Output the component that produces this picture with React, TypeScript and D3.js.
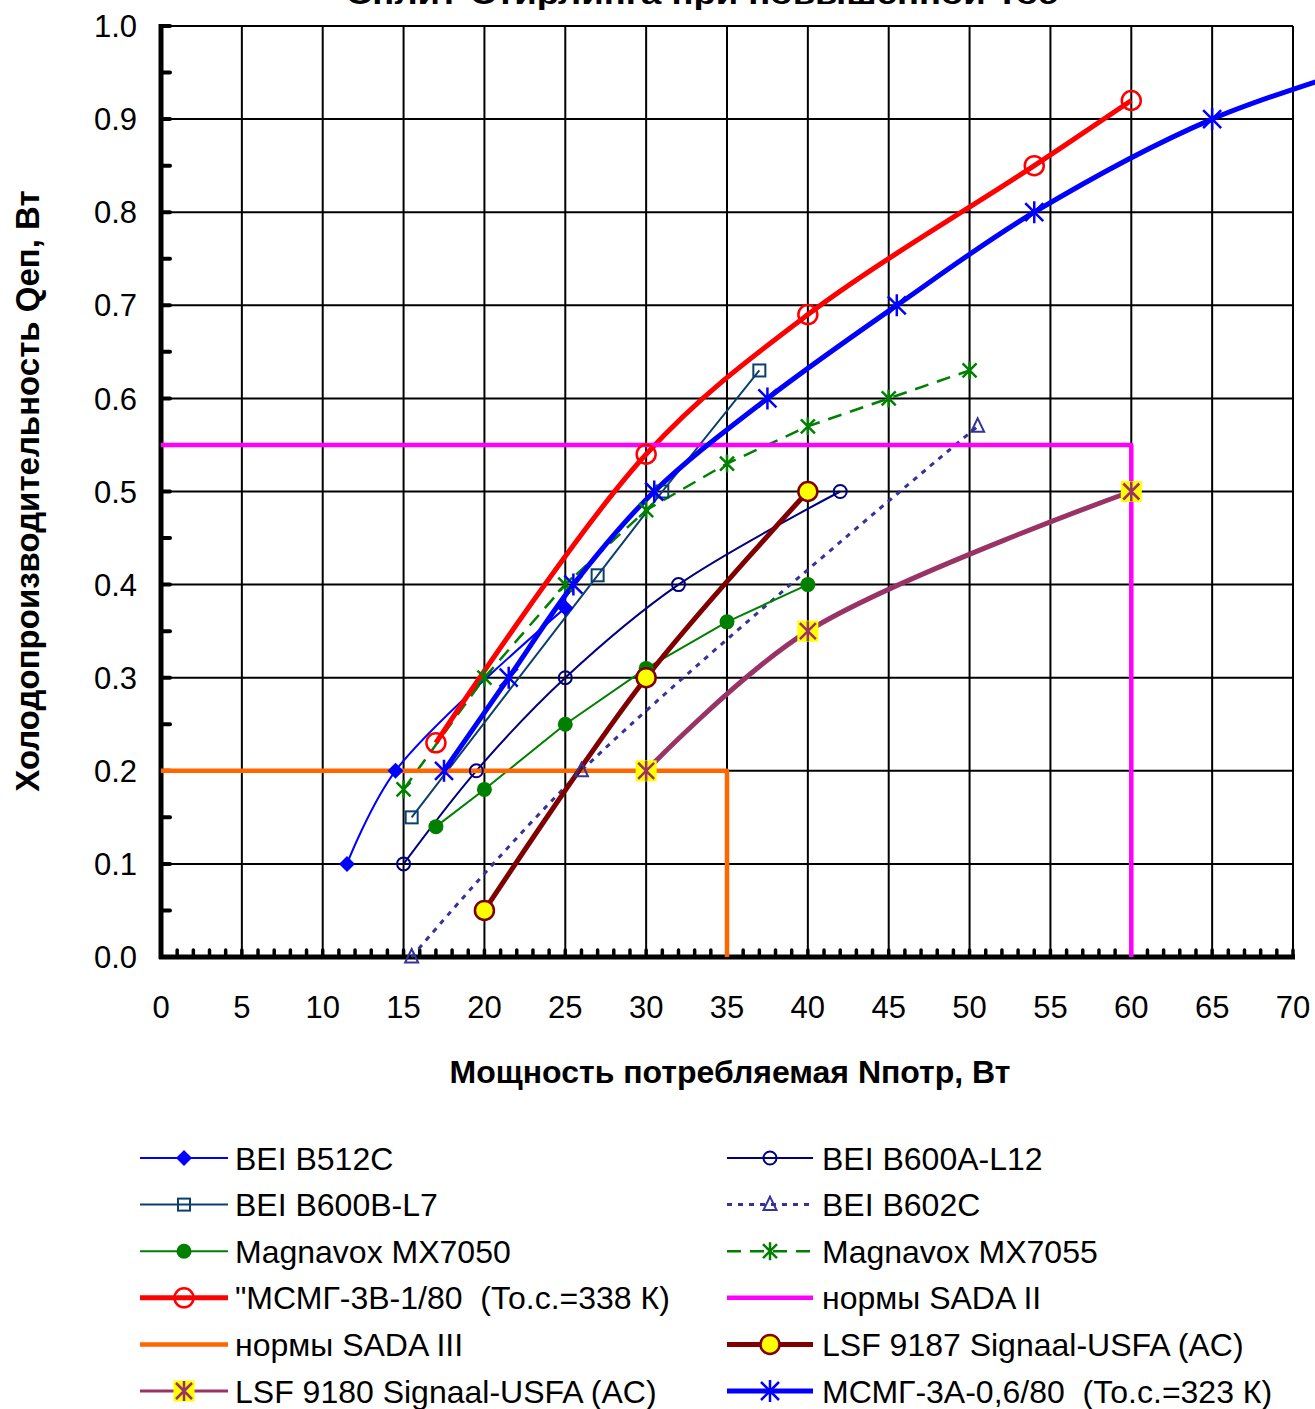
import * as d3 from 'd3';

// tick labels
const xTickLabels = ['0', '5', '10', '15', '20', '25', '30', '35', '40', '45', '50', '55', '60', '65', '70'];
const yTickLabels = ['0.0', '0.1', '0.2', '0.3', '0.4', '0.5', '0.6', '0.7', '0.8', '0.9', '1.0'];

// series (x = Nпотр, W ; y = Q, W)
const b512cX = [11.5, 14.5, 25];
const b512cY = [0.1, 0.2, 0.375];
const b600aX = [15, 19.5, 25, 32, 42];
const b600aY = [0.1, 0.2, 0.3, 0.4, 0.5];
const b600bX = [15.5, 27, 31, 37];
const b600bY = [0.15, 0.41, 0.5, 0.63];
const b602cX = [15.5, 26, 50.5];
const b602cY = [0, 0.2, 0.57];
const mx7050X = [17, 20, 25, 30, 35, 40];
const mx7050Y = [0.14, 0.18, 0.25, 0.31, 0.36, 0.4];
const mx7055X = [15, 20, 25, 30, 35, 40, 45, 50];
const mx7055Y = [0.18, 0.3, 0.4, 0.48, 0.53, 0.57, 0.6, 0.63];
const msmg3bX = [17, 30, 40, 54, 60];
const msmg3bY = [0.23, 0.54, 0.69, 0.85, 0.92];
const sada2X = [0, 60, 60];
const sada2Y = [0.55, 0.55, 0];
const sada3X = [0, 35, 35];
const sada3Y = [0.2, 0.2, 0];
const lsf9187X = [20, 30, 40];
const lsf9187Y = [0.05, 0.3, 0.5];
const lsf9180X = [30, 40, 60];
const lsf9180Y = [0.2, 0.35, 0.5];
const msmg3aX = [17.5, 21.5, 25.5, 30.5, 37.5, 45.5, 54, 65, 76];
const msmg3aY = [0.2, 0.3, 0.4, 0.5, 0.6, 0.7, 0.8, 0.9, 0.965];

type Mk = 'diamond' | 'square' | 'ring' | 'triangle' | 'dot' | 'star' | 'bigRing' | 'yellowDot' | 'yellowSq' | 'bigStar' | 'none';

interface Series {
  name: string;
  xs: number[];
  ys: number[];
  color: string;
  width: number;
  legendWidth?: number;
  dash?: string;
  smooth: boolean;
  marker: Mk;
}

const series: Series[] = [
  { name: 'BEI B512C', xs: b512cX, ys: b512cY, color: '#0000FF', width: 2, smooth: true, marker: 'diamond' },
  { name: 'BEI B600A-L12', xs: b600aX, ys: b600aY, color: '#000080', width: 2, smooth: true, marker: 'ring' },
  { name: 'BEI B600B-L7', xs: b600bX, ys: b600bY, color: '#0B3F6E', width: 2, smooth: false, marker: 'square' },
  { name: 'BEI B602C', xs: b602cX, ys: b602cY, color: '#333399', width: 3, dash: '5,6', smooth: true, marker: 'triangle' },
  { name: 'Magnavox MX7050', xs: mx7050X, ys: mx7050Y, color: '#008000', width: 2, smooth: false, marker: 'dot' },
  { name: 'Magnavox MX7055', xs: mx7055X, ys: mx7055Y, color: '#008000', width: 2.5, dash: '14,9', smooth: false, marker: 'star' },
  { name: '"МСМГ-3В-1/80  (То.с.=338 К)', xs: msmg3bX, ys: msmg3bY, color: '#FF0000', width: 5, smooth: true, marker: 'bigRing' },
  { name: 'нормы SADA II', xs: sada2X, ys: sada2Y, color: '#FF00FF', width: 4.5, smooth: false, marker: 'none' },
  { name: 'нормы SADA III', xs: sada3X, ys: sada3Y, color: '#FF6600', width: 4.5, smooth: false, marker: 'none' },
  { name: 'LSF 9187 Signaal-USFA (AC)', xs: lsf9187X, ys: lsf9187Y, color: '#800000', width: 5, smooth: true, marker: 'yellowDot' },
  { name: 'LSF 9180 Signaal-USFA (AC)', xs: lsf9180X, ys: lsf9180Y, color: '#993366', width: 5, legendWidth: 3, smooth: true, marker: 'yellowSq' },
  { name: 'МСМГ-3А-0,6/80  (То.с.=323 К)', xs: msmg3aX, ys: msmg3aY, color: '#0000FF', width: 5, smooth: true, marker: 'bigStar' },
];

const W = 1315;
const H = 1409;
const FONT = '"Liberation Sans", Arial, sans-serif';

const x = d3.scaleLinear().domain([0, 70]).range([161, 1293]);
const y = d3.scaleLinear().domain([0, 1]).range([957, 26]);

const Marker = ({ type, cx, cy, color }: { type: Mk; cx: number; cy: number; color: string }) => {
  switch (type) {
    case 'diamond':
      return <path d={`M${cx},${cy - 8}L${cx + 8},${cy}L${cx},${cy + 8}L${cx - 8},${cy}Z`} fill={color} />;
    case 'square':
      return <rect x={cx - 6} y={cy - 6} width={12} height={12} fill="none" stroke={color} strokeWidth={2} />;
    case 'ring':
      return <circle cx={cx} cy={cy} r={6.5} fill="none" stroke={color} strokeWidth={2} />;
    case 'triangle':
      return <path d={`M${cx},${cy - 8}L${cx + 6.5},${cy + 5.5}L${cx - 6.5},${cy + 5.5}Z`} fill="none" stroke={color} strokeWidth={2} />;
    case 'dot':
      return <circle cx={cx} cy={cy} r={7.5} fill={color} />;
    case 'star':
      return (
        <path
          d={`M${cx - 7},${cy - 7}L${cx + 7},${cy + 7}M${cx - 7},${cy + 7}L${cx + 7},${cy - 7}M${cx},${cy - 9}L${cx},${cy + 9}`}
          stroke={color}
          strokeWidth={2.5}
          fill="none"
        />
      );
    case 'bigRing':
      return <circle cx={cx} cy={cy} r={9.5} fill="none" stroke={color} strokeWidth={2.5} />;
    case 'yellowDot':
      return <circle cx={cx} cy={cy} r={9.5} fill="#FFFF00" stroke={color} strokeWidth={2.5} />;
    case 'yellowSq':
      return (
        <g>
          <rect x={cx - 10.5} y={cy - 10.5} width={21} height={21} fill="#FFFF00" />
          <path
            d={`M${cx - 8},${cy - 8}L${cx + 8},${cy + 8}M${cx - 8},${cy + 8}L${cx + 8},${cy - 8}M${cx},${cy - 10}L${cx},${cy + 10}`}
            stroke={color}
            strokeWidth={2.5}
            fill="none"
          />
        </g>
      );
    case 'bigStar':
      return (
        <path
          d={`M${cx - 9},${cy - 9}L${cx + 9},${cy + 9}M${cx - 9},${cy + 9}L${cx + 9},${cy - 9}M${cx},${cy - 11}L${cx},${cy + 11}`}
          stroke={color}
          strokeWidth={2.5}
          fill="none"
        />
      );
    default:
      return null;
  }
};

export default function App() {
  const minorX = d3.range(1, 71);
  const minorY = d3.range(0.05, 1.0001, 0.05);

  const lineFor = (s: Series) => {
    const gen = d3
      .line<number>()
      .x((_d, i) => x(s.xs[i]))
      .y((_d, i) => y(s.ys[i]))
      .curve(s.smooth ? d3.curveCatmullRom.alpha(0.5) : d3.curveLinear);
    return gen(s.ys) || '';
  };

  const legendRow0 = 1158;
  const legendStep = 46.6;
  const cols = [
    { x1: 140, x2: 228, mx: 184, tx: 235 },
    { x1: 727, x2: 813, mx: 770, tx: 822 },
  ];

  return (
    <svg width={W} height={H} style={{ position: 'absolute', left: 0, top: 0, background: '#fff' }} fontFamily={FONT}>
      <rect width={W} height={H} fill="#fff" />
      {/* title, cut off at the top edge as in the source image */}
      <text x={702} y={4} textAnchor="middle" fontSize={30} fontWeight="bold" textLength={712} lengthAdjust="spacingAndGlyphs">
        Сплит-Стирлинга при повышенной Тос
      </text>

      {/* grid */}
      {d3.range(5, 75, 5).map(v => (
        <line key={'vx' + v} x1={x(v)} x2={x(v)} y1={y(1)} y2={y(0)} stroke="#000" strokeWidth={2} />
      ))}
      {d3.range(1, 11).map(i => (
        <line key={'hy' + i} x1={x(0)} x2={x(70)} y1={y(i / 10)} y2={y(i / 10)} stroke="#000" strokeWidth={2} />
      ))}

      {/* axes */}
      <line x1={x(0)} x2={x(0)} y1={y(1) - 2} y2={y(0) + 2} stroke="#000" strokeWidth={5} />
      <line x1={x(0) - 2} x2={x(70) + 2} y1={y(0)} y2={y(0)} stroke="#000" strokeWidth={5} />
      {minorY.map(v => (
        <line key={'ty' + v} x1={x(0)} x2={x(0) + 9} y1={y(v)} y2={y(v)} stroke="#000" strokeWidth={4} strokeLinecap="round" />
      ))}
      {minorX.map(v => (
        <line key={'tx' + v} x1={x(v)} x2={x(v)} y1={y(0)} y2={y(0) - 7} stroke="#000" strokeWidth={3.5} strokeLinecap="round" />
      ))}

      {/* tick labels */}
      {yTickLabels.map((t, i) => (
        <text key={'yl' + t} x={137} y={y(i / 10)} dy="0.36em" textAnchor="end" fontSize={31}>
          {t}
        </text>
      ))}
      {xTickLabels.map((t, i) => (
        <text key={'xl' + t} x={x(i * 5)} y={1007} dy="0.36em" textAnchor="middle" fontSize={31}>
          {t}
        </text>
      ))}

      {/* axis titles */}
      <text x={730} y={1083} textAnchor="middle" fontSize={32} fontWeight="bold">
        Мощность потребляемая Nпотр, Вт
      </text>
      <text transform="translate(39,491) rotate(-90)" textAnchor="middle" fontSize={33} fontWeight="bold">
        Холодопроизводительность Qеп, Вт
      </text>

      {/* series lines */}
      {series.map(s => (
        <path
          key={'l' + s.name}
          d={lineFor(s)}
          fill="none"
          stroke={s.color}
          strokeWidth={s.width}
          strokeDasharray={s.dash}
          strokeLinejoin="round"
        />
      ))}
      {/* markers on top */}
      {series.map(s =>
        s.xs.map((v, i) => <Marker key={'m' + s.name + i} type={s.marker} cx={x(v)} cy={y(s.ys[i])} color={s.color} />)
      )}

      {/* legend */}
      {series.map((s, i) => {
        const c = cols[i % 2];
        const ry = legendRow0 + Math.floor(i / 2) * legendStep;
        return (
          <g key={'lg' + s.name}>
            <line
              x1={c.x1}
              x2={c.x2}
              y1={ry}
              y2={ry}
              stroke={s.color}
              strokeWidth={s.legendWidth ?? s.width}
              strokeDasharray={s.dash}
            />
            <Marker type={s.marker} cx={c.mx} cy={ry} color={s.color} />
            <text x={c.tx} y={ry} dy="0.36em" fontSize={32} style={{ whiteSpace: 'pre' }}>
              {s.name}
            </text>
          </g>
        );
      })}
    </svg>
  );
}
